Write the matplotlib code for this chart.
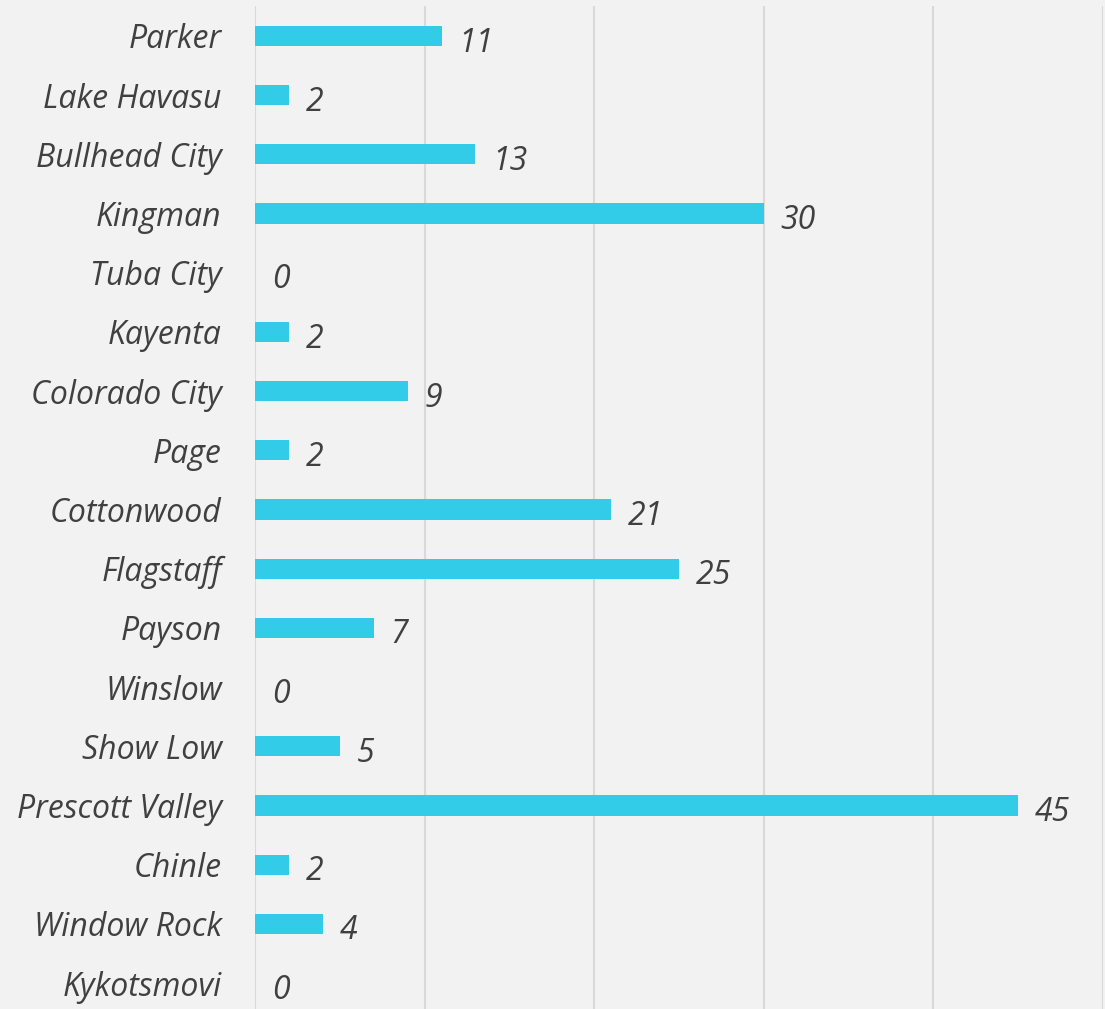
import matplotlib.pyplot as plt
import numpy as np

cities = ["Parker", "Lake Havasu", "Bullhead City", "Kingman", "Tuba City",
          "Kayenta", "Colorado City", "Page", "Cottonwood", "Flagstaff",
          "Payson", "Winslow", "Show Low", "Prescott Valley", "Chinle",
          "Window Rock", "Kykotsmovi"]
counts = [11, 2, 13, 30, 0, 2, 9, 2, 21, 25, 7, 0, 5, 45, 2, 4, 0]

bg = "#f2f2f2"
fig = plt.figure(figsize=(11.05, 10.09), dpi=100, facecolor=bg)
ax = fig.add_axes([255 / 1105, -0.0036, 848 / 1105, 0.9973])
ax.set_facecolor(bg)

y = np.arange(len(cities))
ax.barh(y, counts, height=0.34, color="#33cce8", zorder=3)

for yi, v in zip(y, counts):
    ax.text(v + 1.0, yi + 0.12, str(v), fontsize=23, style="italic",
            family="Open Sans", color="#404040", va="center", ha="left")

ax.set_xlim(0, 50)
ax.set_ylim(len(cities) - 0.5, -0.5)
ax.set_xticks(np.arange(0, 51, 10))
ax.xaxis.grid(True, color="#d9d9d9", linewidth=1.5, zorder=0)
ax.tick_params(axis="x", length=0, labelbottom=False)
ax.tick_params(axis="y", length=0, pad=24)
ax.set_yticks(y)
ax.set_yticklabels(cities, fontsize=23, style="italic", family="Open Sans",
                   color="#404040")
for s in ax.spines.values():
    s.set_visible(False)

fig.savefig("out.png", dpi=100, facecolor=bg)
